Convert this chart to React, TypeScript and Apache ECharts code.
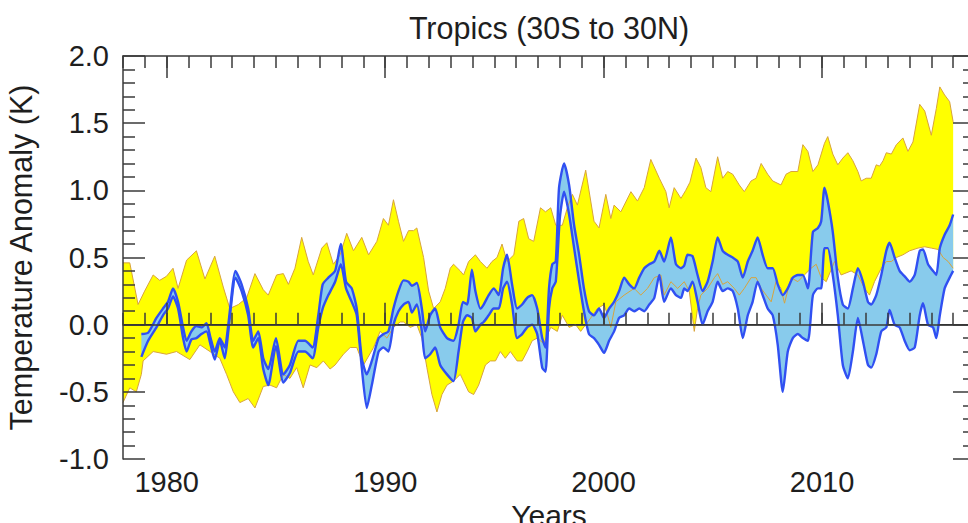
import React, { useEffect, useRef } from "react";
import * as echarts from "echarts";

const title = "Tropics (30S to 30N)";
const xName = "Years";
const yName = "Temperature Anomaly (K)";
const majorYears = [1980, 1990, 2000, 2010];
const zeroLine = [[1978, 0], [2017, 0]];

const yellowUpper = [
[1978.00,0.46],[1978.31,0.46],[1978.69,0.15],[1978.99,0.25],[1979.38,0.37],[1979.68,0.33],[1979.99,0.36],[1980.29,0.42],[1980.52,0.27],[1980.91,0.48],[1981.36,0.55],[1981.75,0.34],[1982.20,0.51],[1982.59,0.28],[1982.89,0.12],[1983.28,0.15],[1983.66,0.20],[1984.04,0.38],[1984.42,0.26],[1984.65,0.22],[1985.03,0.37],[1985.34,0.38],[1985.57,0.30],[1985.87,0.42],[1986.18,0.65],[1986.48,0.47],[1986.71,0.37],[1987.10,0.57],[1987.33,0.61],[1987.63,0.45],[1987.94,0.52],[1988.24,0.68],[1988.55,0.55],[1988.93,0.65],[1989.24,0.52],[1989.62,0.62],[1989.92,0.79],[1990.15,0.74],[1990.38,0.93],[1990.61,0.77],[1990.84,0.62],[1991.07,0.70],[1991.30,0.70],[1991.45,0.72],[1991.76,0.50],[1991.99,0.25],[1992.22,0.12],[1992.52,0.17],[1992.75,0.27],[1992.98,0.42],[1993.13,0.45],[1993.44,0.40],[1993.59,0.37],[1993.82,0.47],[1994.13,0.52],[1994.36,0.47],[1994.66,0.42],[1994.89,0.47],[1995.12,0.50],[1995.35,0.60],[1995.58,0.47],[1995.89,0.52],[1996.12,0.77],[1996.34,0.79],[1996.57,0.64],[1996.80,0.62],[1997.11,0.87],[1997.34,0.84],[1997.58,0.87],[1997.81,0.74],[1998.11,0.74],[1998.34,0.87],[1998.57,0.97],[1998.80,0.89],[1999.18,1.15],[1999.56,0.77],[1999.79,0.72],[2000.10,0.97],[2000.33,0.79],[2000.48,0.89],[2000.79,0.84],[2001.25,0.99],[2001.55,0.92],[2001.86,1.02],[2002.16,1.23],[2002.55,1.09],[2002.85,0.99],[2003.00,0.87],[2003.23,1.02],[2003.54,0.94],[2003.76,1.00],[2003.95,1.06],[2004.23,1.24],[2004.45,1.17],[2004.68,1.02],[2004.91,0.99],[2005.22,1.25],[2005.45,1.09],[2005.68,1.14],[2005.91,1.12],[2006.21,1.04],[2006.44,0.99],[2006.75,1.07],[2006.98,1.09],[2007.21,1.20],[2007.51,1.12],[2007.74,1.07],[2008.12,1.04],[2008.35,1.12],[2008.58,1.14],[2008.89,1.14],[2009.12,1.34],[2009.35,1.29],[2009.58,1.14],[2009.81,1.19],[2010.11,1.35],[2010.26,1.40],[2010.49,1.27],[2010.72,1.19],[2010.95,1.24],[2011.18,1.28],[2011.41,1.22],[2011.64,1.14],[2011.79,1.07],[2012.02,1.09],[2012.25,1.09],[2012.48,1.19],[2012.63,1.18],[2012.79,1.22],[2012.94,1.28],[2013.17,1.27],[2013.40,1.34],[2013.70,1.39],[2013.93,1.29],[2014.16,1.36],[2014.47,1.64],[2014.70,1.59],[2015.00,1.41],[2015.23,1.61],[2015.39,1.77],[2015.61,1.71],[2015.84,1.66],[2016.00,1.51]
];

const yellowLower = [
[1978.00,-0.58],[1978.31,-0.47],[1978.61,-0.50],[1978.84,-0.37],[1978.92,-0.27],[1979.38,-0.20],[1979.99,-0.22],[1980.45,-0.20],[1981.06,-0.26],[1981.52,-0.15],[1981.98,-0.20],[1982.43,-0.25],[1982.74,-0.37],[1983.05,-0.50],[1983.35,-0.58],[1983.73,-0.55],[1984.04,-0.62],[1984.42,-0.46],[1984.73,-0.45],[1985.03,-0.47],[1985.34,-0.37],[1985.64,-0.40],[1985.95,-0.32],[1986.25,-0.47],[1986.56,-0.30],[1986.87,-0.32],[1987.17,-0.27],[1987.48,-0.33],[1987.71,-0.30],[1988.09,-0.22],[1988.40,-0.17],[1988.70,-0.17],[1989.01,-0.30],[1989.47,-0.17],[1989.77,-0.05],[1990.08,-0.10],[1990.38,-0.02],[1990.69,0.02],[1990.84,0.02],[1991.15,-0.02],[1991.45,0.00],[1991.68,-0.10],[1991.91,-0.32],[1992.14,-0.52],[1992.37,-0.65],[1992.60,-0.52],[1992.83,-0.45],[1993.13,-0.42],[1993.44,-0.37],[1993.82,-0.50],[1994.05,-0.52],[1994.28,-0.45],[1994.59,-0.30],[1994.82,-0.27],[1995.05,-0.27],[1995.27,-0.20],[1995.50,-0.25],[1995.73,-0.20],[1996.04,-0.27],[1996.27,-0.27],[1996.50,-0.20],[1996.73,-0.12],[1996.96,-0.10],[1997.26,-0.14],[1997.58,-0.02],[1997.88,-0.05],[1998.11,0.07],[1998.42,-0.02],[1998.72,0.00],[1998.95,-0.05],[1999.41,0.05],[1999.72,0.12],[2000.02,0.15],[2000.18,0.07],[2000.33,-0.02],[2000.56,0.17],[2000.94,0.22],[2001.40,0.27],[2001.70,0.22],[2002.01,0.27],[2002.32,0.35],[2002.62,0.37],[2002.77,0.22],[2003.08,0.32],[2003.39,0.27],[2003.69,0.32],[2003.92,0.25],[2004.15,-0.05],[2004.30,0.12],[2004.45,0.22],[2004.76,0.27],[2005.07,0.35],[2005.22,0.38],[2005.45,0.30],[2005.68,0.32],[2005.98,0.27],[2006.21,0.22],[2006.44,0.27],[2006.75,0.35],[2006.98,0.35],[2007.21,0.27],[2007.44,0.22],[2007.67,0.17],[2007.89,0.32],[2008.12,0.27],[2008.28,0.16],[2008.58,0.35],[2008.89,0.32],[2009.19,0.37],[2009.50,0.42],[2009.73,0.45],[2009.96,0.35],[2010.19,0.32],[2010.57,0.47],[2010.87,0.37],[2011.33,0.40],[2011.64,0.37],[2011.94,0.27],[2012.17,0.22],[2012.40,0.32],[2012.71,0.42],[2012.94,0.47],[2013.17,0.47],[2013.40,0.50],[2013.70,0.52],[2014.01,0.55],[2014.39,0.57],[2014.70,0.58],[2015.00,0.57],[2015.31,0.56],[2015.54,0.50],[2015.77,0.47],[2016.00,0.42]
];

const blueUpper = [
[1978.84,-0.07],[1979.15,-0.06],[1979.53,0.05],[1979.83,0.12],[1980.06,0.17],[1980.29,0.27],[1980.52,0.17],[1980.75,-0.02],[1980.91,-0.12],[1981.13,-0.05],[1981.36,-0.01],[1981.59,-0.02],[1981.82,0.01],[1982.01,-0.10],[1982.20,-0.20],[1982.43,-0.10],[1982.66,-0.17],[1982.82,0.00],[1983.15,0.40],[1983.43,0.30],[1983.73,0.12],[1983.96,-0.12],[1984.19,-0.05],[1984.42,-0.25],[1984.65,-0.33],[1985.00,-0.10],[1985.34,-0.37],[1985.64,-0.30],[1986.03,-0.12],[1986.33,-0.12],[1986.68,-0.17],[1986.94,0.07],[1987.14,0.30],[1987.40,0.35],[1987.71,0.40],[1987.97,0.60],[1988.21,0.32],[1988.47,0.27],[1988.70,0.12],[1988.93,-0.25],[1989.16,-0.37],[1989.39,-0.27],[1989.70,-0.10],[1989.92,-0.07],[1990.15,-0.05],[1990.38,0.12],[1990.61,0.25],[1990.84,0.33],[1991.07,0.32],[1991.22,0.29],[1991.45,0.31],[1991.68,0.12],[1991.83,-0.05],[1992.06,0.07],[1992.29,0.12],[1992.52,-0.02],[1992.83,-0.10],[1993.13,-0.12],[1993.36,0.00],[1993.56,0.17],[1993.75,0.15],[1993.97,0.41],[1994.13,0.25],[1994.36,0.12],[1994.51,0.15],[1994.74,0.22],[1994.97,0.27],[1995.20,0.22],[1995.40,0.42],[1995.58,0.52],[1995.81,0.30],[1996.04,0.12],[1996.27,0.15],[1996.50,0.20],[1996.73,0.22],[1996.96,0.12],[1997.19,-0.10],[1997.34,-0.17],[1997.50,0.27],[1997.65,0.45],[1997.81,0.47],[1997.96,1.02],[1998.19,1.20],[1998.42,1.04],[1998.65,0.74],[1998.88,0.52],[1999.10,0.27],[1999.33,0.10],[1999.56,0.07],[1999.79,0.12],[2000.02,0.05],[2000.25,0.12],[2000.48,0.17],[2000.71,0.25],[2000.94,0.35],[2001.17,0.30],[2001.40,0.27],[2001.63,0.35],[2001.86,0.42],[2002.09,0.45],[2002.32,0.47],[2002.55,0.55],[2002.77,0.47],[2003.08,0.65],[2003.31,0.45],[2003.54,0.42],[2003.69,0.44],[2003.84,0.52],[2004.07,0.51],[2004.30,0.37],[2004.53,0.25],[2004.76,0.32],[2004.99,0.47],[2005.22,0.65],[2005.45,0.55],[2005.68,0.52],[2005.91,0.50],[2006.14,0.47],[2006.37,0.35],[2006.60,0.47],[2006.82,0.55],[2007.05,0.65],[2007.28,0.52],[2007.51,0.42],[2007.74,0.42],[2007.97,0.30],[2008.20,0.22],[2008.43,0.27],[2008.66,0.35],[2008.89,0.37],[2009.12,0.37],[2009.35,0.27],[2009.58,0.69],[2009.81,0.72],[2009.96,0.77],[2010.11,1.02],[2010.26,0.92],[2010.49,0.69],[2010.72,0.35],[2010.95,0.15],[2011.18,0.12],[2011.41,0.27],[2011.64,0.42],[2011.87,0.32],[2012.10,0.17],[2012.25,0.15],[2012.48,0.22],[2012.71,0.37],[2012.94,0.55],[2013.09,0.61],[2013.32,0.50],[2013.55,0.40],[2013.78,0.36],[2014.01,0.32],[2014.24,0.37],[2014.47,0.55],[2014.62,0.56],[2014.85,0.45],[2015.08,0.40],[2015.23,0.37],[2015.39,0.57],[2015.61,0.67],[2015.84,0.74],[2016.00,0.82]
];

const blueLower = [
[1978.84,-0.24],[1979.15,-0.12],[1979.53,-0.02],[1979.83,0.07],[1980.06,0.12],[1980.29,0.21],[1980.52,0.12],[1980.75,-0.10],[1980.91,-0.20],[1981.13,-0.11],[1981.36,-0.10],[1981.59,-0.07],[1981.82,-0.05],[1982.01,-0.15],[1982.20,-0.26],[1982.43,-0.12],[1982.66,-0.25],[1982.82,-0.05],[1983.15,0.35],[1983.43,0.25],[1983.73,0.07],[1983.96,-0.17],[1984.19,-0.10],[1984.42,-0.33],[1984.65,-0.45],[1985.00,-0.16],[1985.34,-0.43],[1985.64,-0.36],[1986.03,-0.20],[1986.33,-0.20],[1986.68,-0.25],[1986.94,-0.02],[1987.14,0.12],[1987.40,0.22],[1987.71,0.32],[1987.97,0.45],[1988.21,0.27],[1988.47,0.17],[1988.70,0.07],[1988.93,-0.32],[1989.16,-0.62],[1989.39,-0.45],[1989.70,-0.20],[1989.92,-0.17],[1990.15,-0.20],[1990.38,0.00],[1990.61,0.10],[1990.84,0.15],[1991.07,0.17],[1991.22,0.09],[1991.45,0.15],[1991.68,-0.05],[1991.83,-0.25],[1992.06,-0.22],[1992.29,-0.17],[1992.52,-0.30],[1992.83,-0.37],[1993.13,-0.42],[1993.36,-0.20],[1993.56,0.02],[1993.75,0.07],[1993.97,0.05],[1994.13,-0.05],[1994.36,0.00],[1994.51,0.02],[1994.74,0.07],[1994.97,0.12],[1995.20,0.12],[1995.40,0.27],[1995.58,0.32],[1995.81,0.15],[1996.04,-0.10],[1996.27,-0.07],[1996.50,-0.02],[1996.73,0.00],[1996.96,-0.07],[1997.19,-0.32],[1997.34,-0.35],[1997.50,0.12],[1997.65,0.27],[1997.81,0.32],[1998.00,0.80],[1998.19,0.99],[1998.42,0.82],[1998.65,0.57],[1998.88,0.32],[1999.10,0.10],[1999.33,-0.07],[1999.56,-0.10],[1999.79,-0.15],[2000.02,-0.21],[2000.25,-0.12],[2000.48,-0.05],[2000.71,0.05],[2000.94,0.07],[2001.17,0.12],[2001.40,0.10],[2001.63,0.12],[2001.86,0.10],[2002.09,0.15],[2002.32,0.20],[2002.55,0.37],[2002.77,0.17],[2003.08,0.27],[2003.31,0.22],[2003.54,0.20],[2003.69,0.27],[2003.84,0.25],[2004.07,0.32],[2004.30,0.17],[2004.53,0.00],[2004.76,0.10],[2004.99,0.17],[2005.22,0.32],[2005.45,0.25],[2005.68,0.27],[2005.91,0.25],[2006.14,0.12],[2006.37,-0.10],[2006.60,0.07],[2006.82,0.17],[2007.05,0.32],[2007.28,0.22],[2007.51,0.12],[2007.74,0.07],[2007.97,-0.15],[2008.20,-0.50],[2008.43,-0.20],[2008.66,-0.10],[2008.89,-0.07],[2009.12,-0.10],[2009.35,-0.12],[2009.58,0.22],[2009.81,0.27],[2009.96,0.27],[2010.11,0.57],[2010.26,0.57],[2010.49,0.37],[2010.72,0.07],[2010.95,-0.30],[2011.18,-0.40],[2011.41,-0.20],[2011.64,0.05],[2011.87,-0.12],[2012.10,-0.30],[2012.25,-0.32],[2012.48,-0.22],[2012.71,-0.05],[2012.94,-0.02],[2013.09,0.11],[2013.32,0.00],[2013.55,-0.02],[2013.78,-0.12],[2014.01,-0.19],[2014.24,-0.17],[2014.47,0.07],[2014.62,0.16],[2014.85,0.00],[2015.08,-0.02],[2015.23,-0.10],[2015.39,0.07],[2015.61,0.27],[2015.84,0.35],[2016.00,0.40]
];

const FONT = "'Liberation Sans', Arial, Helvetica, sans-serif";
const AX = "#3a3a3a";
const TXT = "#1e1e1e";

function bandRenderer(upper: number[][], lower: number[][], fill: string) {
  return (_params: any, api: any) => {
    const pts: number[][] = [];
    for (const p of upper) pts.push(api.coord(p));
    for (let i = lower.length - 1; i >= 0; i--) pts.push(api.coord(lower[i]));
    return {
      type: "polygon",
      shape: { points: pts },
      style: { fill, stroke: null, lineWidth: 0 },
    };
  };
}

export default function App() {
  const ref = useRef<HTMLDivElement>(null);
  useEffect(() => {
    if (!ref.current) return;
    const chart = echarts.init(ref.current, null, { renderer: "svg" });
    const xBase = (extra: any) => ({
      type: "value",
      min: 1978,
      max: 2017,
      z: 10,
      splitLine: { show: false },
      ...extra,
    });
    const yBase = (extra: any) => ({
      type: "value",
      min: -1,
      max: 2,
      interval: 0.5,
      z: 10,
      splitLine: { show: false },
      axisLine: { show: true, lineStyle: { color: AX, width: 1.5 } },
      axisTick: { show: true, inside: true, length: 22, lineStyle: { color: AX, width: 1.5 } },
      minorTick: { show: true, splitNumber: 5, length: 12, lineStyle: { color: AX, width: 1.5 } },
      minorSplitLine: { show: false },
      ...extra,
    });
    chart.setOption({
      animation: false,
      backgroundColor: "#ffffff",
      textStyle: { fontFamily: FONT },
      grid: { left: 123, top: 56, width: 852, height: 403, containLabel: false, outerBoundsMode: "none" },
      graphic: [
        {
          type: "text",
          x: 549,
          y: 12,
          z: 20,
          style: {
            text: title,
            fontSize: 30.5,
            fontFamily: FONT,
            fill: TXT,
            textAlign: "center",
            textVerticalAlign: "top",
          },
        },
      ],
      xAxis: [
        xBase({
          position: "bottom",
          axisLine: { show: true, lineStyle: { color: AX, width: 1.5 } },
          axisTick: { show: true, inside: true, length: 22, customValues: majorYears, lineStyle: { color: AX, width: 1.5 } },
          axisLabel: {
            show: true,
            customValues: majorYears,
            fontSize: 29,
            color: TXT,
            fontFamily: FONT,
            margin: 8,
            formatter: (v: number) => String(v),
          },
          name: xName,
          nameLocation: "middle",
          nameGap: 38,
          nameTextStyle: { fontSize: 30, color: TXT, fontFamily: FONT },
        }),
        xBase({
          position: "bottom",
          interval: 1,
          axisLine: { show: false },
          axisTick: { show: true, inside: true, length: 12, lineStyle: { color: AX, width: 1.5 } },
          axisLabel: { show: false },
        }),
        xBase({
          position: "top",
          axisLine: { show: true, lineStyle: { color: AX, width: 1.5 } },
          axisTick: { show: true, inside: true, length: 22, customValues: majorYears, lineStyle: { color: AX, width: 1.5 } },
          axisLabel: { show: false },
        }),
        xBase({
          position: "top",
          interval: 1,
          axisLine: { show: false },
          axisTick: { show: true, inside: true, length: 12, lineStyle: { color: AX, width: 1.5 } },
          axisLabel: { show: false },
        }),
      ],
      yAxis: [
        yBase({
          position: "left",
          axisLabel: {
            show: true,
            fontSize: 29,
            color: TXT,
            fontFamily: FONT,
            margin: 14,
            formatter: (v: number) => v.toFixed(1),
          },
          name: yName,
          nameLocation: "middle",
          nameGap: 87,
          nameTextStyle: { fontSize: 30.5, color: TXT, fontFamily: FONT },
        }),
        yBase({
          position: "right",
          axisLabel: { show: false },
        }),
      ],
      series: [
        {
          type: "custom",
          name: "models",
          xAxisIndex: 0,
          yAxisIndex: 0,
          z: 1,
          clip: true,
          silent: true,
          data: [yellowUpper[0]],
          renderItem: bandRenderer(yellowUpper, yellowLower, "#ffff00"),
        },
        {
          type: "line",
          name: "zero",
          z: 2,
          data: zeroLine,
          showSymbol: false,
          silent: true,
          lineStyle: { color: "#222", width: 1.5 },
        },
        {
          type: "custom",
          name: "obs",
          xAxisIndex: 0,
          yAxisIndex: 0,
          z: 3,
          clip: true,
          silent: true,
          data: [blueUpper[0]],
          renderItem: bandRenderer(blueUpper, blueLower, "#88cbec"),
        },
        {
          type: "line",
          name: "modelsUpper",
          z: 4,
          data: yellowUpper,
          showSymbol: false,
          silent: true,
          lineStyle: { color: "#d8a33c", width: 1 },
        },
        {
          type: "line",
          name: "modelsLower",
          z: 4,
          data: yellowLower,
          showSymbol: false,
          silent: true,
          lineStyle: { color: "#d8a33c", width: 1 },
        },
        {
          type: "line",
          name: "obsUpper",
          z: 5,
          data: blueUpper,
          showSymbol: false,
          silent: true,
          smooth: 0.2,
          lineStyle: { color: "#3050f2", width: 2.4 },
        },
        {
          type: "line",
          name: "obsLower",
          z: 5,
          data: blueLower,
          showSymbol: false,
          silent: true,
          smooth: 0.2,
          lineStyle: { color: "#3050f2", width: 2.4 },
        },
      ],
    });
    return () => chart.dispose();
  }, []);
  return (
    <div
      ref={ref}
      style={{ position: "absolute", left: 0, top: 0, width: 968, height: 523 }}
    />
  );
}
